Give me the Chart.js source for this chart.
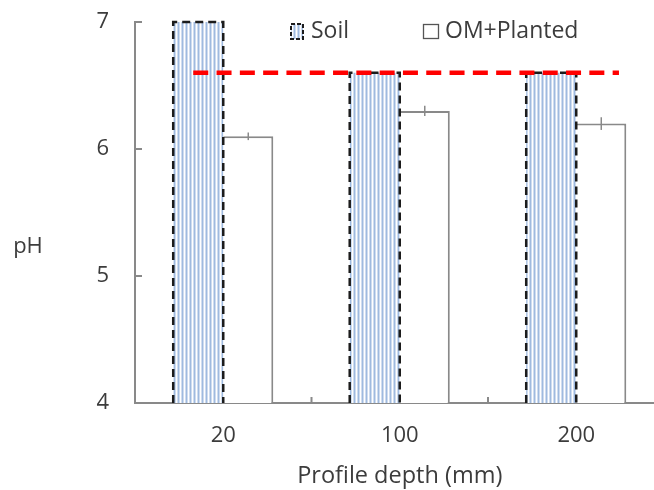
<!DOCTYPE html>
<html>
<head>
<meta charset="utf-8">
<title>pH by profile depth</title>
<script src="https://cdn.jsdelivr.net/npm/chart.js@4.4.1/dist/chart.umd.min.js"></script>
<style>
  html, body { margin: 0; padding: 0; background: #fff; overflow: hidden; }
  #wrap { position: relative; width: 680px; height: 490px; }
</style>
</head>
<body>
<div id="wrap"><canvas id="phChart"></canvas></div>
<script>
// data
const depths = ["20", "100", "200"];
const seriesNames = ["Soil", "OM+Planted"];
const soilPH = [7.0, 6.6, 6.6];
const plantedPH = [6.1, 6.3, 6.2];
const plantedErr = [0.03, 0.04, 0.05];
const yTicks = [4, 5, 6, 7];
const soilReference = 6.6;

// styling
const axisGrey = "#898989";
const textColor = "#3c3c3c";
const fontFamily = "'Open Sans', sans-serif";
const labelSize = 22;

const canvas = document.getElementById("phChart");
const ctx = canvas.getContext("2d");

// light vertical stripes used for the soil bars
function makeStripes() {
  const tile = document.createElement("canvas");
  tile.width = 4;
  tile.height = 4;
  const g = tile.getContext("2d");
  ["#ffffff", "#cfdcef", "#9fbadf", "#cfdcef"].forEach((c, i) => {
    g.fillStyle = c;
    g.fillRect(i, 0, 1, 4);
  });
  return ctx.createPattern(tile, "repeat");
}
const stripes = makeStripes();

function dashedOutline(c, left, right, top, base) {
  c.beginPath();
  c.moveTo(left, base);
  c.lineTo(left, top);
  c.lineTo(right, top);
  c.lineTo(right, base);
  c.stroke();
}

const barExtras = {
  id: "barExtras",
  afterDatasetsDraw(chart) {
    const { ctx: c, chartArea, scales: { x, y } } = chart;
    c.save();

    // dashed outlines around soil bars
    c.strokeStyle = "#1c1c1c";
    c.lineWidth = 2.5;
    c.setLineDash([8, 5]);
    chart.getDatasetMeta(0).data.forEach((bar) => {
      const half = bar.width / 2;
      const base = Math.min(bar.base, chartArea.bottom);
      dashedOutline(c, bar.x - half, bar.x + half, bar.y, base);
    });

    // error bars on planted bars
    c.setLineDash([]);
    c.strokeStyle = axisGrey;
    c.lineWidth = 1.5;
    chart.getDatasetMeta(1).data.forEach((bar, i) => {
      c.beginPath();
      c.moveTo(bar.x, y.getPixelForValue(plantedPH[i] + plantedErr[i]));
      c.lineTo(bar.x, y.getPixelForValue(plantedPH[i] - plantedErr[i]));
      c.stroke();
    });

    // inward tick marks
    c.strokeStyle = axisGrey;
    c.lineWidth = 2;
    yTicks.forEach((v) => {
      const py = y.getPixelForValue(v);
      c.beginPath();
      c.moveTo(chartArea.left, py);
      c.lineTo(chartArea.left + 7, py);
      c.stroke();
    });
    for (let i = 1; i < depths.length; i++) {
      const px = x.getPixelForValue(i - 0.5);
      c.beginPath();
      c.moveTo(px, chartArea.bottom);
      c.lineTo(px, chartArea.bottom - 6);
      c.stroke();
    }

    // red dashed reference at the soil level
    const ry = y.getPixelForValue(soilReference);
    c.strokeStyle = "#ff0000";
    c.lineWidth = 4.5;
    c.setLineDash([15, 8.3]);
    c.beginPath();
    c.moveTo(x.getPixelForValue(-0.17), ry);
    c.lineTo(x.getPixelForValue(2.242), ry);
    c.stroke();

    c.restore();
  }
};

const labelsAndLegend = {
  id: "labelsAndLegend",
  afterDraw(chart) {
    const { ctx: c, chartArea } = chart;
    c.save();
    c.fillStyle = textColor;
    c.textBaseline = "middle";

    // axis titles
    c.textAlign = "center";
    c.font = labelSize + "px " + fontFamily;
    c.fillText("pH", 28, 247);
    c.font = "23.5px " + fontFamily;
    c.fillText("Profile depth (mm)", (chartArea.left + chartArea.right) / 2, 476);

    // legend
    c.font = "23px " + fontFamily;
    const itemX = [289, 423];
    const boxY = 24;
    const boxW = 16;
    const boxH = 15;
    c.textAlign = "left";
    seriesNames.forEach((name, i) => {
      const bx = itemX[i];
      if (i === 0) {
        c.fillStyle = stripes;
        c.fillRect(bx + 2, boxY, boxW - 4, boxH);
        c.strokeStyle = "#1c1c1c";
        c.lineWidth = 2;
        c.setLineDash([4, 2]);
        c.strokeRect(bx + 2, boxY, boxW - 4, boxH);
        c.setLineDash([]);
      } else {
        c.fillStyle = "#ffffff";
        c.fillRect(bx, boxY, boxW, boxH);
        c.strokeStyle = "#555555";
        c.lineWidth = 1.3;
        c.strokeRect(bx + 0.5, boxY + 0.5, boxW - 1, boxH - 1);
      }
      c.fillStyle = textColor;
      c.fillText(name, bx + 22, boxY + boxH / 2);
    });
    c.restore();
  }
};

new Chart(ctx, {
  type: "bar",
  data: {
    labels: depths,
    datasets: [
      {
        label: seriesNames[0],
        data: soilPH,
        backgroundColor: stripes,
        borderWidth: 0,
        categoryPercentage: 0.567,
        barPercentage: 1
      },
      {
        label: seriesNames[1],
        data: plantedPH,
        backgroundColor: "#ffffff",
        borderColor: axisGrey,
        borderWidth: { top: 2, right: 2, left: 0, bottom: 0 },
        borderSkipped: false,
        categoryPercentage: 0.567,
        barPercentage: 1
      }
    ]
  },
  options: {
    responsive: true,
    maintainAspectRatio: false,
    animation: false,
    layout: { padding: { top: 22, right: 15.5, left: 0, bottom: 0 } },
    plugins: {
      legend: { display: false },
      tooltip: { enabled: false }
    },
    scales: {
      x: {
        z: 1,
        grid: { display: false, drawTicks: false },
        border: { color: axisGrey, width: 2 },
        ticks: {
          color: textColor,
          font: { family: fontFamily, size: labelSize },
          padding: 20
        },
        afterFit: (s) => { s.height = 87; }
      },
      y: {
        z: 1,
        min: 4,
        max: 7,
        grid: { display: false, drawTicks: false },
        border: { color: axisGrey, width: 2 },
        ticks: {
          color: textColor,
          font: { family: fontFamily, size: labelSize },
          padding: 26
        },
        afterBuildTicks: (s) => { s.ticks = yTicks.map((v) => ({ value: v })); },
        afterFit: (s) => {
          s.width = 135;
          s.paddingTop = 0;
          s.paddingBottom = 0;
        }
      }
    }
  },
  plugins: [barExtras, labelsAndLegend]
});
</script>
</body>
</html>
